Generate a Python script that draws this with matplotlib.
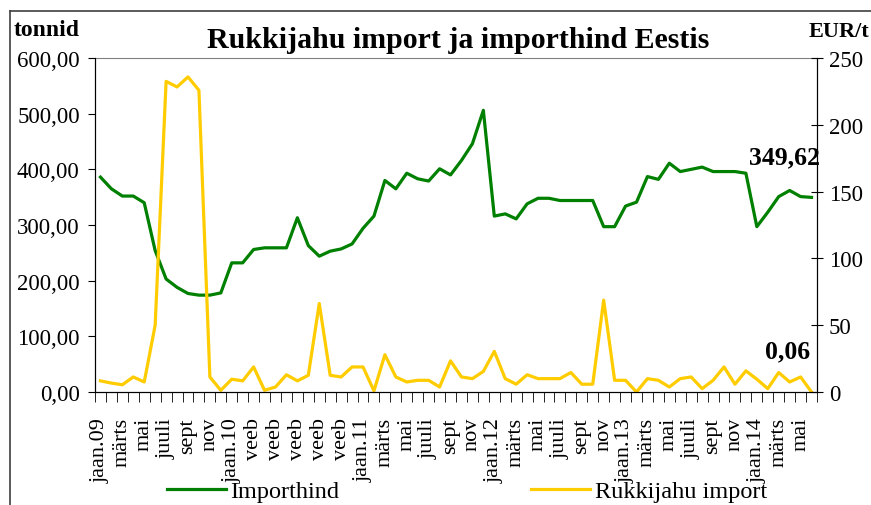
import matplotlib
matplotlib.use("Agg")
import matplotlib.pyplot as plt
from matplotlib.lines import Line2D
from matplotlib.ticker import FuncFormatter

plt.rcParams['font.family'] = ['Liberation Serif', 'DejaVu Serif']

# kuude sildid (iga teine kuu), jaan.09 .. mai 2014
labels = ["jaan.09", "märts", "mai", "juuli", "sept", "nov",
          "jaan.10", "veeb", "veeb", "veeb", "veeb", "veeb",
          "jaan.11", "märts", "mai", "juuli", "sept", "nov",
          "jaan.12", "märts", "mai", "juuli", "sept", "nov",
          "jaan.13", "märts", "mai", "juuli", "sept", "nov",
          "jaan.14", "märts", "mai"]

# Importhind, jaan.09 .. juuni 2014 (66 kuud)
importhind = [386, 365, 352, 352, 340, 254, 203, 188, 177, 174, 174, 178,
              232, 232, 256, 259, 259, 259, 313, 263, 244, 253, 257, 266,
              294, 316, 380, 365, 393, 383, 379, 401, 390, 416, 446, 506,
              316, 320, 311, 338, 348, 348, 344, 344, 344, 344, 297, 297,
              334, 341, 387, 382, 411, 396, 400, 404, 396, 396, 396, 393,
              297, 323, 351, 362, 351, 349.62]

# Rukkijahu import
rukkijahu = [20, 16, 13, 27, 18, 120, 558, 548, 566, 542, 27, 3,
             23, 20, 45, 3, 9, 31, 20, 30, 159, 30, 27, 45,
             45, 2, 67, 27, 18, 21, 21, 9, 56, 27, 24, 37,
             73, 24, 14, 31, 24, 24, 24, 35, 14, 14, 165, 21,
             21, 0, 24, 21, 9, 24, 27, 6, 21, 45, 14, 38,
             23, 6, 35, 18, 27, 0.06]

green = "#008000"
yellow = "#FFCC00"
n = len(importhind)
x = list(range(n))

fig = plt.figure(figsize=(8.71, 5.06), dpi=100)
ax = fig.add_axes([95 / 871, 1 - 393 / 506, (817 - 95) / 871, (393 - 59) / 506])

l1, = ax.plot(x, importhind, color=green, lw=2.3, label="Importhind")
l2, = ax.plot(x, rukkijahu, color=yellow, lw=2.3, label="Rukkijahu import")

ax.set_xlim(-0.5, n - 0.5)
ax.set_ylim(0, 600)
ax.set_yticks(range(0, 601, 100))
ax.yaxis.set_major_formatter(FuncFormatter(lambda v, p: f"{v:.2f}".replace(".", ",")))
ax.tick_params(axis='y', direction='out', length=5, labelsize=16.5, pad=6)

ax.set_xticks([i * 2 for i in range(len(labels))])
ax.set_xticklabels(labels, rotation=90, fontsize=16)
ax.set_xticks([i - 0.5 for i in range(n + 1)], minor=True)
ax.tick_params(axis='x', which='major', length=0, pad=18)
ax.tick_params(axis='x', which='minor', direction='out', length=7)

ax.spines['top'].set_color('#808080')
for s in ['left', 'bottom', 'right']:
    ax.spines[s].set_color('black')

ax2 = ax.twinx()
ax2.set_ylim(0, 250)
ax2.set_yticks(range(0, 251, 50))
ax2.tick_params(axis='y', direction='inout', length=9, labelsize=16.5, pad=4)
ax2.spines['top'].set_visible(False)

ax.text(65.8, 422, "349,62", ha='right', va='center', fontsize=18.5, fontweight='bold')
ax.text(64.9, 74, "0,06", ha='right', va='center', fontsize=18.5, fontweight='bold')

fig.text(0.526, 1 - 41 / 506, "Rukkijahu import ja importhind Eestis",
         ha='center', va='center', fontsize=21.5, fontweight='bold')
fig.text(14 / 871, 1 - 30 / 506, "tonnid", ha='left', va='center', fontsize=17, fontweight='bold')
fig.text(869 / 871, 1 - 32 / 506, "EUR/t", ha='right', va='center', fontsize=16, fontweight='bold')

fig.legend(handles=[l1, l2], loc='center', bbox_to_anchor=(467 / 871, 1 - 492 / 506),
           ncol=2, frameon=False, fontsize=17.5, handlelength=2.4, handletextpad=0.2,
           columnspacing=7.9, borderpad=0.1)

# välimine raam
fig.add_artist(Line2D([10 / 871, 10 / 871], [0, 1 - 12 / 506], transform=fig.transFigure,
                      color='#404040', lw=1.2))
fig.add_artist(Line2D([10 / 871, 1], [1 - 12 / 506, 1 - 12 / 506], transform=fig.transFigure,
                      color='#404040', lw=1.2))

fig.savefig("out.png", dpi=100)
